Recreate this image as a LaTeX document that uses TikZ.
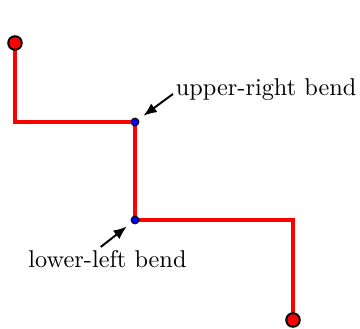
\documentclass[tikz,border=0pt]{standalone}
\usetikzlibrary{arrows.meta}
\begin{document}
\begin{tikzpicture}[x=0.4115pt, y=-0.4115pt,
  wire/.style={red, line width=1.3pt},
  endpt/.style={circle, fill=red, draw=black, line width=0.8pt, inner sep=0pt, minimum size=5.6pt},
  bendpt/.style={circle, fill=blue, draw=black, line width=0.4pt, inner sep=0pt, minimum size=3.2pt},
  pointer/.style={-{Latex[length=5.5pt,width=4.4pt]}, thick, shorten >=4.3pt},
  lbl/.style={inner sep=1pt}]
\useasboundingbox (0,0) rectangle (360,329);
% path through the two bends
\coordinate (start) at (15,43);
\coordinate (ur) at (135,122);
\coordinate (ll) at (135,220);
\coordinate (finish) at (293,320);
\draw[wire] (start) |- (ur) -- (ll) -| (finish);

% end points and bend points
\node[endpt] (startdot) at (start) {};
\node[endpt] (finishdot) at (finish) {};
\node[bendpt] (urdot) at (ur) {};
\node[bendpt] (lldot) at (ll) {};

% labels with arrows
\node[lbl, anchor=base west] (urlab) at (173,95) {upper-right bend};
\node[lbl, anchor=base] (lllab) at (107.5,267) {lower-left bend};
\draw[pointer] (urlab.183) -- (ur);
\draw[pointer] (lllab.120) -- (ll);
\end{tikzpicture}
\end{document}
